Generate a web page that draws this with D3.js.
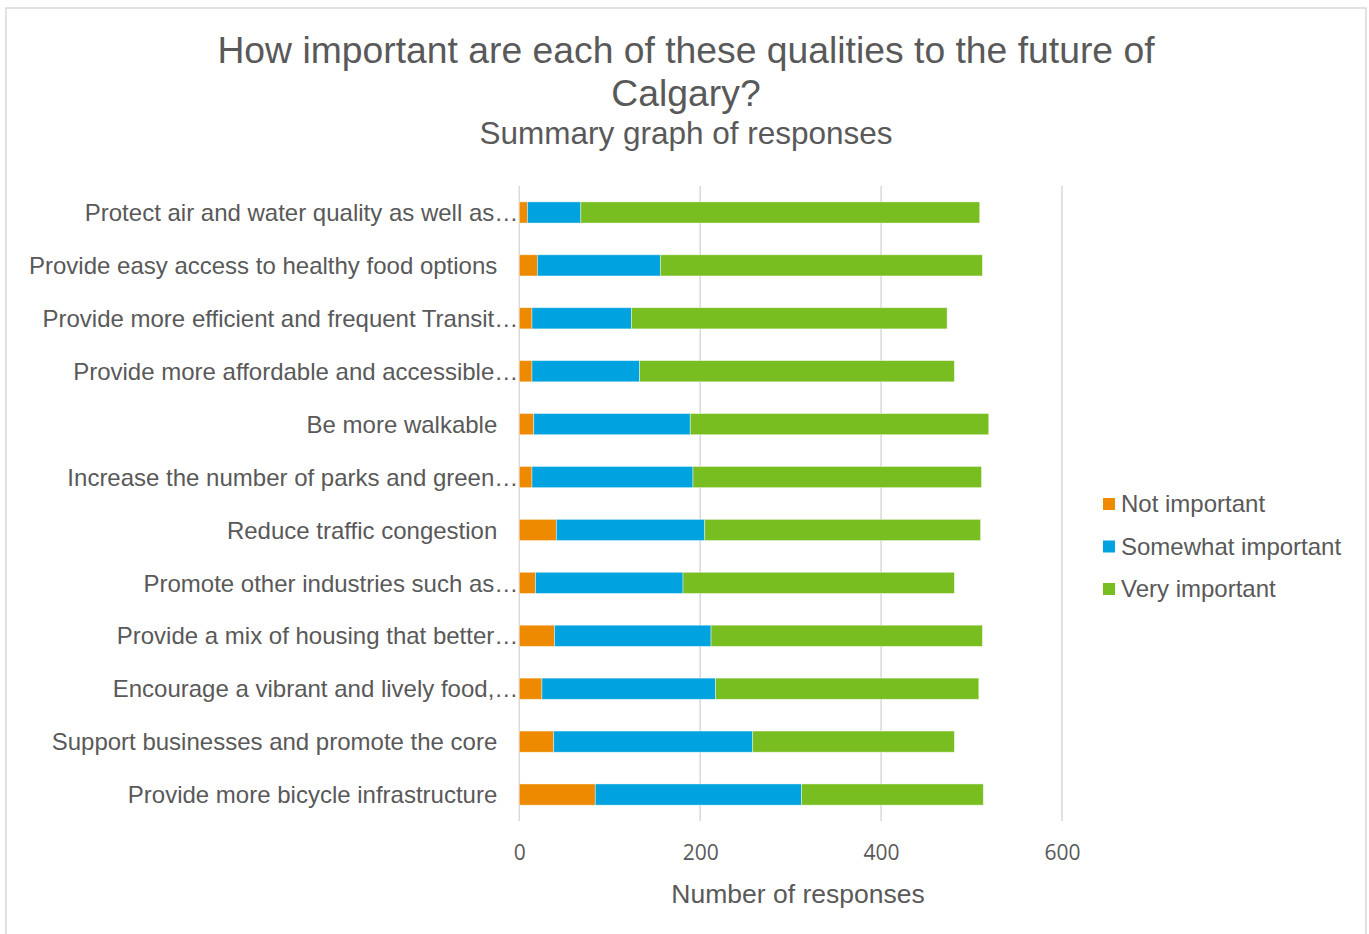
<!DOCTYPE html>
<html>
<head>
<meta charset="utf-8">
<script src="https://cdn.jsdelivr.net/npm/d3@7/dist/d3.min.js"></script>
<style>
  html, body { margin: 0; padding: 0; background: #fff; }
  svg { display: block; }
  text { font-family: "Liberation Sans", Arial, sans-serif; fill: #595959; }
</style>
</head>
<body>
<svg id="chart" width="1369" height="934"></svg>
<script>
// Survey qualities, top to bottom
const categories = [
  "Protect air and water quality as well as…",
  "Provide easy access to healthy food options",
  "Provide more efficient and frequent Transit…",
  "Provide more affordable and accessible…",
  "Be more walkable",
  "Increase the number of parks and  green…",
  "Reduce traffic congestion",
  "Promote other industries such as…",
  "Provide a mix of housing that better…",
  "Encourage a vibrant and lively food,…",
  "Support businesses and promote the core",
  "Provide more bicycle infrastructure"
];

const seriesNames = ["Not important", "Somewhat important", "Very important"];
const seriesColors = ["#EE8A00", "#00A3E0", "#78BE20"];

const notImportant      = [9, 20, 14, 14, 16, 14, 41, 18, 39, 25, 38, 84];
const somewhatImportant = [59, 136, 110, 119, 173, 178, 164, 163, 173, 192, 220, 228];
const veryImportant     = [441, 356, 349, 348, 330, 319, 305, 300, 300, 291, 223, 201];

const xTicks = [0, 200, 400, 600];

const rows = categories.map((c, i) => ({
  category: c,
  "Not important": notImportant[i],
  "Somewhat important": somewhatImportant[i],
  "Very important": veryImportant[i]
}));

const svg = d3.select("#chart");

// chart frame
svg.append("rect")
  .attr("x", 6).attr("y", 8)
  .attr("width", 1360).attr("height", 940)
  .attr("fill", "#fff")
  .attr("stroke", "#d9d9d9")
  .attr("stroke-width", 1.5);

// titles
svg.append("text")
  .attr("x", 686).attr("y", 63)
  .attr("text-anchor", "middle")
  .style("font-size", "37.3px")
  .text("How important are each of these qualities to the future of");
svg.append("text")
  .attr("x", 686).attr("y", 106)
  .attr("text-anchor", "middle")
  .style("font-size", "37.3px")
  .text("Calgary?");
svg.append("text")
  .attr("x", 686).attr("y", 144)
  .attr("text-anchor", "middle")
  .style("font-size", "31.5px")
  .text("Summary graph of responses");

const plot = { left: 519.3, right: 1062, top: 186, bottom: 821 };

const x = d3.scaleLinear().domain([0, 600]).range([plot.left, plot.right]);
const y = d3.scaleBand().domain(categories).range([plot.top, plot.bottom]).paddingInner(0.6).paddingOuter(0.3);

// vertical gridlines
svg.append("g")
  .selectAll("line")
  .data(xTicks)
  .join("line")
  .attr("x1", d => x(d)).attr("x2", d => x(d))
  .attr("y1", plot.top).attr("y2", plot.bottom)
  .attr("stroke", "#d9d9d9")
  .attr("stroke-width", 1.5);

// stacked bars
const stack = d3.stack().keys(seriesNames);
const layers = stack(rows);

svg.append("g")
  .selectAll("g")
  .data(layers)
  .join("g")
  .attr("fill", (d, i) => seriesColors[i])
  .selectAll("rect")
  .data(d => d)
  .join("rect")
  .attr("x", d => x(d[0]))
  .attr("y", d => y(d.data.category))
  .attr("width", d => x(d[1]) - x(d[0]))
  .attr("height", y.bandwidth())
  .attr("stroke", "#ffffff")
  .attr("stroke-opacity", 0.5)
  .attr("stroke-width", 0.8);

// category axis labels (shortened labels run up to the axis)
const yAxis = d3.axisLeft(y).tickSize(0).tickPadding(22);
const gy = svg.append("g").attr("transform", `translate(${plot.left},1)`).call(yAxis);
gy.select(".domain").remove();
gy.selectAll("text")
  .style("font-family", "'Liberation Sans', Arial, sans-serif")
  .style("font-size", "24px")
  .attr("fill", "#595959")
  .attr("x", d => d.endsWith("…") ? -1 : -22);

// value axis labels
const xAxis = d3.axisBottom(x).tickValues(xTicks).tickSize(0).tickPadding(24).tickFormat(d3.format("d"));
const gx = svg.append("g").attr("transform", `translate(0,${plot.bottom})`).call(xAxis);
gx.select(".domain").remove();
gx.selectAll("text")
  .style("font-family", "'Open Sans', sans-serif")
  .style("font-size", "21px")
  .attr("fill", "#595959");

// axis title
svg.append("text")
  .attr("x", 798).attr("y", 903)
  .attr("text-anchor", "middle")
  .style("font-size", "26.5px")
  .text("Number of responses");

// legend
const legend = svg.append("g").attr("transform", "translate(1103,504)");
seriesNames.forEach((name, i) => {
  const g = legend.append("g").attr("transform", `translate(0,${i * 42.5})`);
  g.append("rect")
    .attr("x", 0).attr("y", -6)
    .attr("width", 12).attr("height", 12)
    .attr("fill", seriesColors[i]);
  g.append("text")
    .attr("x", 18).attr("y", 0)
    .attr("dy", "0.35em")
    .style("font-size", "24px")
    .text(name);
});
</script>
</body>
</html>
